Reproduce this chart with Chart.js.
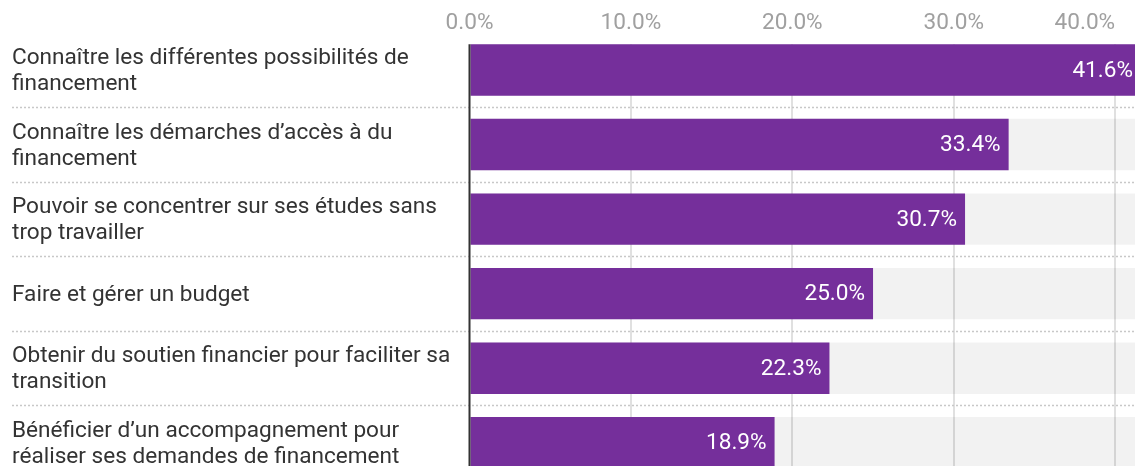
<!DOCTYPE html>
<html>
<head>
<meta charset="utf-8">
<script src="https://cdn.jsdelivr.net/npm/chart.js@4.4.1/dist/chart.umd.min.js"></script>
<style>
  html, body { margin: 0; padding: 0; background: #fff; overflow: hidden; }
  #wrap { width: 1141px; height: 480px; }
</style>
</head>
<body>
<div id="wrap"><canvas id="chart" width="1141" height="480"></canvas></div>
<script>
// Data
const categories = [
    ['Connaître les différentes possibilités de', 'financement'],
    ['Connaître les démarches d’accès à du', 'financement'],
    ['Pouvoir se concentrer sur ses études sans', 'trop travailler'],
    'Faire et gérer un budget',
    ['Obtenir du soutien financier pour faciliter sa', 'transition'],
    ['Bénéficier d’un accompagnement pour', 'réaliser ses demandes de financement']
];
const values = [41.6, 33.4, 30.7, 25.0, 22.3, 18.9];
const tickValues = [0, 10, 20, 30, 40];

const xMax = Math.max(...values);
const purple = '#752f9b';
const font = 'Roboto';
const fontSize = 22.6;

// dotted separators between rows, zero line, white cover above first bar, value labels
const decorPlugin = {
    id: 'decor',
    beforeDatasetsDraw(chart) {
        const { ctx, chartArea } = chart;
        const first = chart.getDatasetMeta(1).data[0];
        const top = first.y - first.height / 2;
        ctx.save();
        ctx.fillStyle = '#fff';
        ctx.fillRect(chartArea.left, chartArea.top - 1, chartArea.right - chartArea.left, top - chartArea.top + 1);
        ctx.restore();
    },
    afterDatasetsDraw(chart) {
        const { ctx, chartArea, scales } = chart;
        const y = scales.y;
        ctx.save();
        // separators
        ctx.strokeStyle = '#c8c8c8';
        ctx.lineWidth = 1.5;
        ctx.setLineDash([2, 2]);
        for (let i = 0; i < categories.length - 1; i++) {
            const py = Math.round((y.getPixelForValue(i) + y.getPixelForValue(i + 1)) / 2) + 0.5;
            ctx.beginPath();
            ctx.moveTo(12, py);
            ctx.lineTo(chartArea.right, py);
            ctx.stroke();
        }
        ctx.setLineDash([]);

        // value labels
        const meta = chart.getDatasetMeta(1);
        ctx.fillStyle = '#fff';
        ctx.font = fontSize + 'px ' + font;
        ctx.textAlign = 'right';
        ctx.textBaseline = 'middle';
        meta.data.forEach((bar, i) => {
            ctx.fillText(values[i].toFixed(1) + '%', bar.x - 8, bar.y + 1);
        });

        // zero line
        const first = meta.data[0];
        const x0 = scales.x.getPixelForValue(0);
        ctx.strokeStyle = '#333';
        ctx.lineWidth = 2;
        ctx.beginPath();
        ctx.moveTo(x0, first.y - first.height / 2);
        ctx.lineTo(x0, chartArea.bottom);
        ctx.stroke();
        ctx.restore();
    }
};

new Chart(document.getElementById('chart'), {
    type: 'bar',
    data: {
        labels: categories,
        datasets: [{
            label: 'fond',
            data: values.map(() => xMax),
            backgroundColor: 'rgba(0,0,0,0.05)',
            grouped: false,
            order: 1
        }, {
            label: 'Pourcentage',
            data: values,
            backgroundColor: purple,
            grouped: false,
            order: 0
        }]
    },
    options: {
        indexAxis: 'y',
        responsive: false,
        animation: false,
        devicePixelRatio: 1,
        categoryPercentage: 1,
        barPercentage: 0.69,
        layout: { padding: { left: 12, top: 0, right: 0, bottom: 0 } },
        plugins: {
            legend: { display: false },
            tooltip: { enabled: false }
        },
        scales: {
            x: {
                position: 'top',
                min: 0,
                max: xMax,
                border: { display: false },
                grid: {
                    drawTicks: false,
                    lineWidth: 2,
                    color: c => (c.tick && c.tick.value === 0) ? 'rgba(0,0,0,0)' : '#e0e0e0'
                },
                afterBuildTicks: scale => {
                    // first entry is a blank placeholder so that 'inner' centres 0.0% and right-aligns 40.0%
                    scale.ticks = [0].concat(tickValues).map(v => ({ value: v }));
                },
                afterFit: scale => {
                    scale.height = 32.75;
                    scale.paddingLeft = 0;
                    scale.paddingRight = 0;
                },
                ticks: {
                    autoSkip: false,
                    maxRotation: 0,
                    align: 'inner',
                    padding: -2,
                    color: '#a0a0a0',
                    font: { family: font, size: fontSize, lineHeight: 1 },
                    callback: (v, i) => i === 0 ? '' : v.toFixed(1) + '%'
                }
            },
            y: {
                border: { display: false },
                grid: { display: false },
                afterFit: scale => {
                    scale.width = 457.5;
                    scale.paddingTop = 0;
                    scale.paddingBottom = 0;
                },
                ticks: {
                    crossAlign: 'far',
                    color: '#333',
                    padding: 0,
                    labelOffset: 1.5,
                    font: { family: font, size: fontSize, lineHeight: 1.14 }
                }
            }
        }
    },
    plugins: [decorPlugin]
});
</script>
</body>
</html>
